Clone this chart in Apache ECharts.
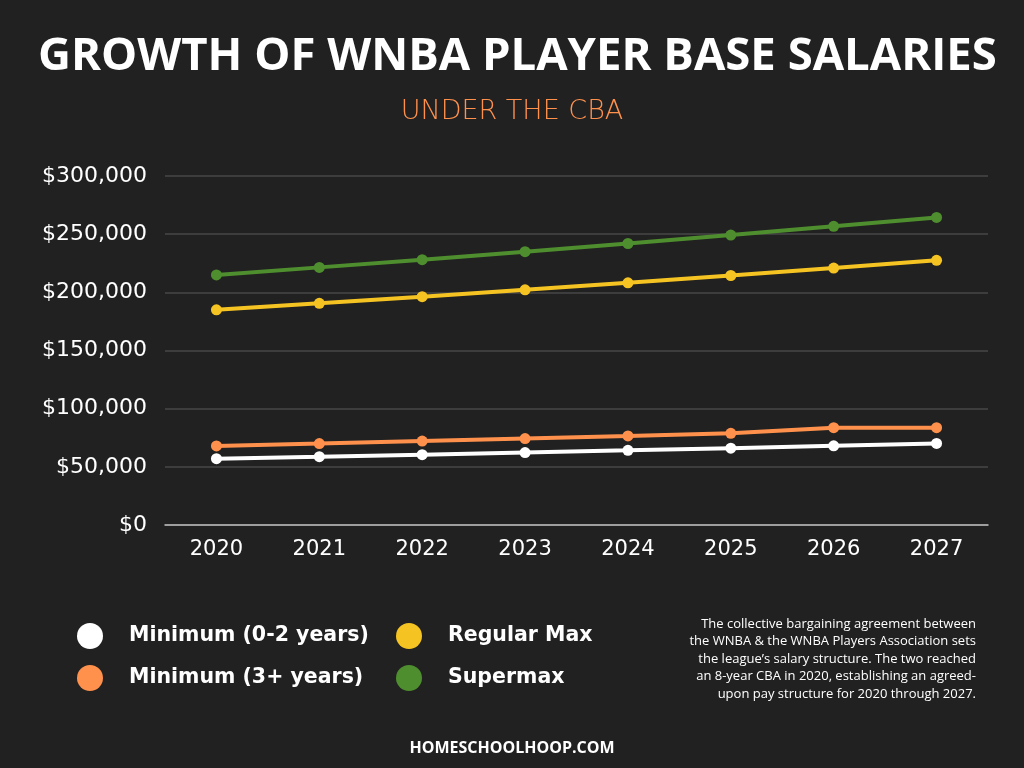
<!DOCTYPE html>
<html><head><meta charset="utf-8">
<script src="https://cdn.jsdelivr.net/npm/echarts@6/dist/echarts.min.js"></script>
<style>html,body{margin:0;padding:0;background:#212121;}#c{width:1024px;height:768px;}</style>
</head><body><div id="c"></div>
<script>
const years = ['2020','2021','2022','2023','2024','2025','2026','2027'];
const minRookie = [57000, 58710, 60471, 62285, 64154, 66079, 68061, 70103];
const minVet = [68000, 70040, 72141, 74305, 76535, 78831, 83700, 83700];
const regularMax = [185000, 190550, 196267, 202154, 208219, 214466, 220900, 227527];
const supermax = [215000, 221450, 228094, 234936, 241984, 249244, 256721, 264423];
const names = ['Minimum (0-2 years)', 'Minimum (3+ years)', 'Regular Max', 'Supermax'];
const colors = ['#FFFFFF', '#FF914D', '#F5C423', '#4E8E2E'];
const noteLines = [
  'The collective bargaining agreement between',
  'the WNBA & the WNBA Players Association sets',
  "the league\u2019s salary structure. The two reached",
  'an 8-year CBA in 2020, establishing an agreed-',
  'upon pay structure for 2020 through 2027.'
];

const chart = echarts.init(document.getElementById('c'));
function mk(i, data) {
  return {
    name: names[i], type: 'line', data: data,
    symbol: 'circle', symbolSize: 11,
    lineStyle: { width: 4, color: colors[i] },
    itemStyle: { color: colors[i] },
    z: 3 + i
  };
}
const legendText = { color: '#FFFFFF', fontSize: 20.5, fontWeight: 'bold', fontFamily: '"DejaVu Sans", sans-serif', padding: [0,0,0,21] };
const noteGraphics = noteLines.map((t, i) => ({
  type: 'text', x: 976, y: 624 + i * 17.5,
  style: { text: t, fill: '#FFFFFF', fontSize: 13, align: 'right', verticalAlign: 'middle',
    fontFamily: '"Open Sans", sans-serif' }
}));
chart.setOption({
  backgroundColor: '#212121',
  animation: false,
  title: [
    { text: 'GROWTH OF WNBA PLAYER BASE SALARIES', left: 33, top: 29,
      textStyle: { color: '#FFFFFF', fontSize: 45.5, fontWeight: 'bold', fontFamily: '"Open Sans", sans-serif' } },
    { text: 'UNDER THE CBA', left: 'center', top: 93,
      textStyle: { color: '#FF914D', fontSize: 27, fontWeight: 300, fontFamily: '"DejaVu Sans", sans-serif' } }
  ],
  grid: { left: 165, right: 36, top: 176, bottom: 243, containLabel: false },
  legend: [
    { orient: 'vertical', left: 77, top: 623, padding: 0, itemWidth: 26, itemHeight: 26, itemGap: 16, icon: 'circle',
      data: [names[0], names[1]], textStyle: legendText, selectedMode: false },
    { orient: 'vertical', left: 396, top: 623, padding: 0, itemWidth: 26, itemHeight: 26, itemGap: 16, icon: 'circle',
      data: [names[2], names[3]], textStyle: legendText, selectedMode: false }
  ],
  xAxis: {
    type: 'category', data: years, boundaryGap: true,
    axisLine: { lineStyle: { color: '#BFBFBF', width: 1.5 } },
    axisTick: { show: false },
    axisLabel: { color: '#FFFFFF', fontSize: 21, margin: 14, fontFamily: '"DejaVu Sans", sans-serif' }
  },
  yAxis: {
    type: 'value', min: 0, max: 300000, interval: 50000,
    axisLine: { show: false }, axisTick: { show: false },
    splitLine: { lineStyle: { color: '#474747', width: 1.5 } },
    axisLabel: { color: '#FFFFFF', fontSize: 22, margin: 18, fontFamily: '"DejaVu Sans", sans-serif',
      formatter: v => '$' + v.toLocaleString('en-US') }
  },
  series: [mk(0, minRookie), mk(1, minVet), mk(2, regularMax), mk(3, supermax)],
  graphic: noteGraphics.concat([
    { type: 'text', x: 512, y: 748,
      style: { text: 'HOMESCHOOLHOOP.COM', fill: '#FFFFFF', fontSize: 16, fontWeight: 'bold', align: 'center', verticalAlign: 'middle',
        fontFamily: '"Open Sans", sans-serif' } }
  ])
});
</script></body></html>
